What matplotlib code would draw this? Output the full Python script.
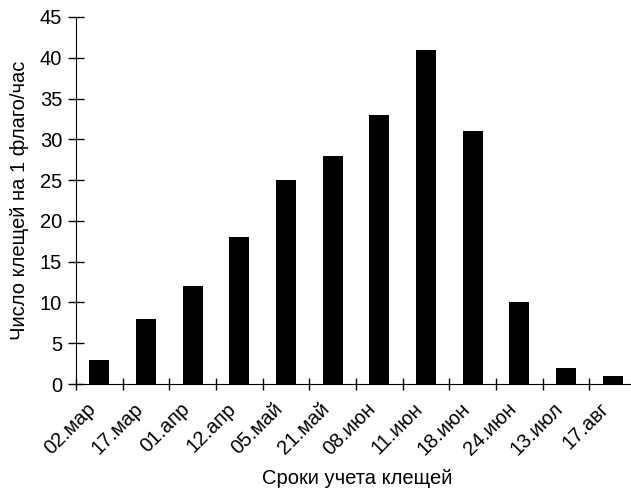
import matplotlib
matplotlib.use("Agg")
import numpy as np
from matplotlib import pyplot as plt
from matplotlib.transforms import ScaledTranslation

plt.rcParams['font.family'] = ['Liberation Sans', 'DejaVu Sans']

dates = ["02.мар", "17.мар", "01.апр", "12.апр", "05.май", "21.май",
         "08.июн", "11.июн", "18.июн", "24.июн", "13.июл", "17.авг"]
ticks_count = [3, 8, 12, 18, 25, 28, 33, 41, 31, 10, 2, 1]

fs = 14.5

fig = plt.figure(figsize=(6.31, 4.9), dpi=100)
# axis runs a little past the right edge, as in the original
ax = fig.add_axes([76 / 631, 106 / 490, 560 / 631, 367 / 490])

x = np.arange(len(dates))
ax.bar(x, ticks_count, width=0.43, color='black')

ax.set_xlim(-0.5, len(dates) - 0.5)
ax.set_ylim(0, 45)
ax.set_yticks(np.arange(0, 46, 5))

# category ticks sit between bars, labels under the bars
ax.set_xticks(np.arange(-0.5, len(dates)), minor=False)
ax.set_xticklabels([])
ax.set_xticks(x, minor=True)
ax.set_xticklabels(dates, minor=True, rotation=45, ha='right',
                   rotation_mode='anchor', fontsize=fs)
ax.tick_params(axis='x', which='minor', length=0, pad=11)
ax.tick_params(axis='x', which='major', direction='inout', length=8, width=1)
ax.tick_params(axis='y', direction='inout', length=12, width=1,
               labelsize=fs, pad=4)

# nudge the rotated labels a little to the left
shift = ScaledTranslation(-13 / 100, 0, fig.dpi_scale_trans)
for lab in ax.get_xticklabels(minor=True):
    lab.set_transform(lab.get_transform() + shift)

for side in ['top', 'right']:
    ax.spines[side].set_visible(False)

ax.set_ylabel("Число клещей на 1 флаго/час", fontsize=fs, labelpad=8)
fig.text(357 / 631, 6 / 490, "Сроки учета клещей", fontsize=fs,
         ha='center', va='baseline')

fig.savefig("out.png", dpi=100)
